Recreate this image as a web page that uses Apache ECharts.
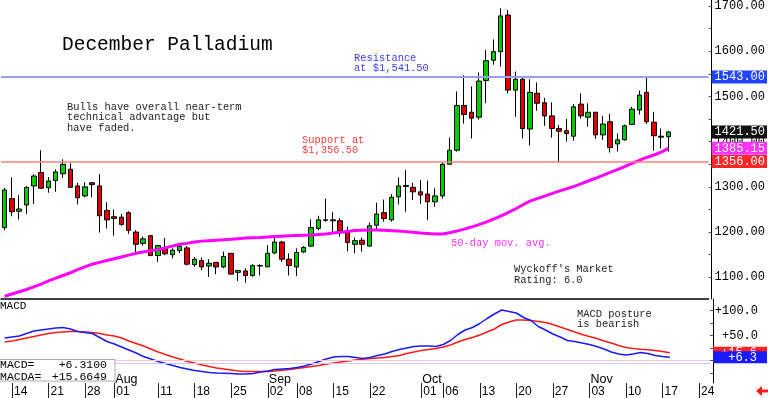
<!DOCTYPE html>
<html>
<head>
<meta charset="utf-8">
<script src="https://cdn.jsdelivr.net/npm/echarts@6/dist/echarts.min.js"></script>
<style>
  html, body { margin: 0; padding: 0; background: #fff; }
  #main { width: 768px; height: 398px; }
</style>
</head>
<body>
<div id="main"></div>
<script>
// trading days, Jul 11 .. Nov 18 plus a few empty days to the right
var dates = ['07-11','07-14','07-15','07-16','07-17','07-18','07-21','07-22','07-23','07-24','07-25',
  '07-28','07-29','07-30','07-31','08-01','08-04','08-05','08-06','08-07','08-08','08-11','08-12','08-13',
  '08-14','08-15','08-18','08-19','08-20','08-21','08-22','08-25','08-26','08-27','08-28','08-29','09-02',
  '09-03','09-04','09-05','09-08','09-09','09-10','09-11','09-12','09-15','09-16','09-17','09-18','09-19',
  '09-22','09-23','09-24','09-25','09-26','09-29','09-30','10-01','10-02','10-03','10-06','10-07','10-08',
  '10-09','10-10','10-13','10-14','10-15','10-16','10-17','10-20','10-21','10-22','10-23','10-24','10-27',
  '10-28','10-29','10-30','10-31','11-03','11-04','11-05','11-06','11-07','11-10','11-11','11-12','11-13',
  '11-14','11-17','11-18','11-19','11-20','11-21','11-24','11-25'];

var dayTicks = ['07-14','07-21','07-28','08-01','08-11','08-18','08-25','09-02','09-08','09-15','09-22',
  '10-01','10-06','10-13','10-20','10-27','11-03','11-10','11-17','11-24'];
var monthStarts = ['08-01','09-02','10-01','11-03'];
var monthNames = ['Aug','Sep','Oct','Nov'];

var opens = [1210,1274,1246,1260,1302,1332,1298,1314,1329,1339,
  1302,1280,1309,1302,1248,1234,1233,1243,1200,1175,
  1192,1148,1166,1150,1159,1165,1128,1137,1125,1133,
  1123,1153,1111,1114,1104,1125,1123,1154,1178,1140,
  1123,1156,1169,1208,1227,1227,1225,1203,1173,1182,
  1169,1215,1243,1227,1278,1303,1299,1289,1284,1267,
  1280,1350,1381,1480,1465,1454,1535,1580,1599,1680,
  1514,1538,1428,1507,1486,1457,1429,1424,1412,1483,
  1454,1465,1415,1444,1395,1404,1438,1470,1509,1443,
  1412,1411];
var closes = [1293,1245,1251,1299,1324,1297,1313,1333,1350,1299,
  1276,1300,1305,1236,1227,1230,1217,1204,1173,1185,
  1148,1170,1152,1160,1169,1129,1140,1123,1131,1123,
  1146,1107,1115,1104,1126,1126,1153,1178,1140,1126,
  1155,1166,1210,1227,1226,1225,1203,1177,1181,1173,
  1214,1240,1230,1277,1302,1301,1289,1282,1267,1280,
  1350,1381,1480,1460,1452,1534,1579,1599,1678,1514,
  1538,1429,1509,1485,1457,1429,1423,1418,1477,1457,
  1465,1415,1439,1387,1404,1435,1472,1503,1444,1413,
  1410,1421.5];
var lows = [1204,1235,1228,1240,1262,1296,1287,1289,1320,1298,
  1261,1277,1277,1199,1208,1192,1214,1196,1156,1170,
  1148,1134,1149,1142,1153,1126,1123,1116,1101,1107,
  1120,1107,1092,1088,1101,1104,1123,1151,1134,1104,
  1103,1153,1167,1204,1223,1198,1190,1157,1153,1157,
  1168,1206,1223,1223,1261,1245,1271,1262,1227,1256,
  1274,1350,1378,1440,1407,1449,1485,1570,1566,1507,
  1455,1407,1391,1468,1435,1409,1354,1400,1402,1451,
  1433,1406,1404,1376,1378,1402,1437,1460,1439,1380,
  1385,1378];
var highs = [1298,1321,1282,1302,1328,1381,1322,1339,1361,1352,
  1309,1310,1311,1328,1266,1250,1240,1246,1204,1190,
  1193,1172,1187,1164,1174,1169,1145,1144,1140,1134,
  1157,1153,1115,1120,1129,1129,1171,1193,1180,1153,
  1164,1169,1228,1236,1274,1244,1231,1212,1188,1188,
  1221,1265,1272,1284,1321,1337,1309,1315,1314,1297,
  1354,1409,1511,1547,1522,1553,1603,1626,1695,1691,
  1555,1544,1538,1531,1497,1487,1437,1450,1483,1507,
  1485,1465,1457,1461,1418,1438,1477,1513,1541,1466,
  1429,1423];

// 50-day moving average
var ma50 = [1058,1063,1068,1073,1079,1085,1092,1098,1104,1110,
  1117,1123,1129,1133,1137,1141,1145,1149,1153,1156,
  1159,1161,1165,1169,1173,1175,1178,1180,1181,1182,
  1183,1184,1185.5,1186.7,1187.5,1188.2,1189,1190,1191,1192,
  1192.5,1193,1193.4,1194.5,1196,1197.8,1199.5,1201.5,1203.3,1204,
  1204.4,1204.4,1203.8,1203,1202.2,1201,1199.5,1197.8,1197,1196,
  1195.6,1198.5,1202.2,1206.5,1211.1,1216.5,1222,1228.5,1235.4,1243,
  1251,1260,1268.6,1274,1279.6,1285,1290.7,1295.7,1300.7,1306.7,
  1313,1319,1325.5,1332,1338,1345,1352,1358.5,1365,1370.5,
  1377,1385.15];

var macd = [45,47,49,54,59,61,63,65,66,63,
  58,56,54,46,38,33,27,21,15,8,
  3,-2,-6,-10,-14,-17,-20,-22,-24,-25,
  -25.5,-26,-27,-27,-26,-23,-21,-18,-17,-16,
  -14,-11,-7,-2,3,7,8,8,6,4,
  6,10,13,18,22,25,28,29,29,28,
  32,40,52,61,66,74,84,93,101,98,
  95,86,80,68,61,53,47,40,38,35,
  32,28,23,17,13,11,13,16,14,10,
  8,6.31];
var macdAvg = [37,39,42,45,48,51,54,56,57,58,
  58,57,56,54,51,49,45,39,34,29,
  23,17,12,7,3,-2,-5,-9,-12,-15,
  -17,-19,-21,-22,-22,-22,-22,-21,-19.5,-18,
  -16,-14,-12,-10,-7,-5,-3,-1,1,2.5,
  4,5,6,8,10,14,17,20,22,24,
  27,31,37,42,46,51,57,63,72,77,
  81,81,80,78,76,72,67,62,57,52,
  48,44,39,35,30,26,24,22.5,21.5,20,
  18,15.6649];

var resistance = 1543.00;
var support = 1356.00;
var priceTicks = [1100,1200,1300,1400,1500,1600,1700];
var priceMinor = [1100,1150,1200,1250,1300,1350,1400,1450,1500,1550,1600,1650,1700];
var macdTicks = [50,100];
var macdMinor = [-25,0,25,50,75,100];

var candles = opens.map(function (o, i) {
    return [o, closes[i], lows[i], highs[i]];
});
var last = closes.length - 1;

var MONO = '"Liberation Mono", "DejaVu Sans Mono", monospace';
var SANS = '"Liberation Sans", Arial, sans-serif';
var NOLINE = { color: 'rgba(0,0,0,0)', width: 0 };

function tag(bg) {
    return {
        show: true,
        position: 'end',
        distance: 3,
        formatter: function (p) { return p.value.toFixed(2); },
        color: '#fff',
        backgroundColor: bg,
        fontFamily: MONO,
        fontSize: 12,
        lineHeight: 13,
        padding: [0, 2, 0, 3]
    };
}
function macdTag(bg) {
    return {
        show: true,
        position: 'end',
        distance: 3,
        formatter: function (p) {
            return '{a|+' + (Math.floor(p.value * 10) / 10).toFixed(1) + '}';
        },
        rich: { a: { width: 44, align: 'right', color: '#fff', fontFamily: MONO, fontSize: 12, lineHeight: 12 } },
        backgroundColor: bg,
        padding: [0, 10, 0, 0]
    };
}

function txt(x, y, s, color, size, font) {
    return {
        type: 'text', x: x, y: y, z: 100,
        style: { text: s, fill: color, font: size + 'px ' + (font || MONO), verticalAlign: 'middle' }
    };
}

var dayFilter = function (i, v) { return dayTicks.indexOf(v) >= 0; };

var option = {
    animation: false,
    backgroundColor: '#fff',
    grid: [
        { left: 1, top: 0, width: 709, height: 299 },
        { left: 1, top: 299, width: 709, height: 84 }
    ],
    xAxis: [
        { type: 'category', gridIndex: 0, data: dates,
          axisLine: { onZero: false, lineStyle: { color: '#000', width: 1.5 } },
          axisTick: { show: false }, axisLabel: { show: false } },
        { type: 'category', gridIndex: 1, data: dates,
          axisLine: { show: true, onZero: false, lineStyle: NOLINE },
          axisTick: { show: true, alignWithLabel: true, length: 15, interval: dayFilter,
              lineStyle: { color: '#222' } },
          axisLabel: { interval: dayFilter,
              formatter: function (v) { return v.slice(3); },
              align: 'left', margin: 3, padding: [0, 0, 0, 2],
              color: '#000', fontFamily: SANS, fontSize: 12 } },
        { type: 'category', gridIndex: 1, data: dates, position: 'bottom',
          axisLine: { show: true, onZero: false, lineStyle: NOLINE }, axisTick: { show: false },
          axisLabel: { inside: true, margin: -3,
              interval: function (i, v) { return monthStarts.indexOf(v) >= 0; },
              formatter: function (v) { return monthNames[monthStarts.indexOf(v)]; },
              align: 'left', padding: [0, 0, 0, 1],
              color: '#000', fontFamily: SANS, fontSize: 12.5 } }
    ],
    yAxis: [
        { type: 'value', gridIndex: 0, position: 'right', offset: 3,
          min: 1052, max: 1713,
          splitLine: { show: false },
          axisLine: { show: true, lineStyle: { color: '#000' } },
          axisTick: { show: true, inside: true, length: 3, customValues: priceMinor, lineStyle: { color: '#555' } },
          axisLabel: { customValues: priceTicks, margin: 3, color: '#000',
              fontFamily: MONO, fontSize: 12,
              formatter: function (v) { return v.toFixed(2); } } },
        { type: 'value', gridIndex: 1, position: 'right', offset: 3,
          min: -45, max: 123,
          splitLine: { show: false },
          axisLine: { show: true, lineStyle: { color: '#000' } },
          axisTick: { show: true, inside: true, length: 3, customValues: macdMinor, lineStyle: { color: '#555' } },
          axisLabel: { customValues: macdTicks, margin: 45, align: 'right', color: '#000',
              fontFamily: MONO, fontSize: 12,
              formatter: function (v) { return '+' + v.toFixed(1); } } }
    ],
    series: [
        {
            type: 'candlestick', xAxisIndex: 0, yAxisIndex: 0,
            data: candles,
            barWidth: 5,
            itemStyle: { color: '#00cc00', color0: '#e00000', borderColor: '#000', borderColor0: '#000', borderWidth: 1 },
            markLine: {
                silent: true, symbol: 'none', animation: false,
                data: [
                    { yAxis: resistance, lineStyle: { color: '#9c9cf2', width: 2, type: 'solid' }, label: tag('#2244ff') },
                    { yAxis: support, lineStyle: { color: '#ff7f7f', width: 1.5, type: 'solid' }, label: tag('#ff2626') },
                    { yAxis: closes[last], lineStyle: NOLINE, label: tag('#111') }
                ]
            }
        },
        {
            type: 'line', xAxisIndex: 0, yAxisIndex: 0,
            data: ma50, symbol: 'none',
            lineStyle: { color: '#ff00ff', width: 3 },
            markLine: {
                silent: true, symbol: 'none', animation: false,
                data: [
                    { yAxis: ma50[last], lineStyle: NOLINE, label: tag('#ff33ff') }
                ]
            }
        },
        {
            type: 'line', xAxisIndex: 1, yAxisIndex: 1,
            data: macdAvg, symbol: 'none',
            lineStyle: { color: '#ff1a1a', width: 1.5 },
            markLine: {
                silent: true, symbol: 'none', animation: false,
                data: [
                    { yAxis: 0, lineStyle: { color: '#ffc8c8', width: 1, type: 'solid' }, label: { show: false } },
                    { yAxis: macdAvg[last], lineStyle: NOLINE, label: macdTag('#ff2020') }
                ]
            }
        },
        {
            type: 'line', xAxisIndex: 1, yAxisIndex: 1,
            data: macd, symbol: 'none',
            lineStyle: { color: '#1a1aff', width: 1.5 },
            markLine: {
                silent: true, symbol: 'none', animation: false,
                data: [
                    { yAxis: -5, lineStyle: { color: '#c8c8ff', width: 1, type: 'solid' }, label: { show: false } },
                    { yAxis: macd[last], lineStyle: NOLINE, label: macdTag('#1a1aff') }
                ]
            }
        }
    ],
    graphic: [
        txt(62, 45, 'December Palladium', '#000', 19.5),
        txt(67, 107, 'Bulls have overall near-term', '#222', 10.4),
        txt(67, 117.5, 'technical advantage but', '#222', 10.4),
        txt(67, 128, 'have faded.', '#222', 10.4),
        txt(354, 58.5, 'Resistance', '#3c3cff', 10.4),
        txt(354, 68.5, 'at $1,541.50', '#3c3cff', 10.4),
        txt(302, 140, 'Support at', '#ff3c3c', 10.4),
        txt(302, 150, '$1,356.50', '#ff3c3c', 10.4),
        txt(451, 243, '50-day mov. avg.', '#ff33ff', 10.4),
        txt(514, 269.5, "Wyckoff's Market", '#222', 10.4),
        txt(514, 280, 'Rating: 6.0', '#222', 10.4),
        txt(577, 314, 'MACD posture', '#222', 10.4),
        txt(577, 324.5, 'is bearish', '#222', 10.4),
        txt(0, 306, 'MACD', '#000', 11),
        { type: 'rect', z: 99, shape: { x: -1, y: 359.5, width: 116, height: 21.5 },
          style: { fill: '#fff', stroke: '#aaa', lineWidth: 1 } },
        txt(0, 364.5, 'MACD=', '#000', 11.5),
        txt(0, 376.5, 'MACDA=', '#000', 11.5),
        { type: 'text', x: 107, y: 364.5, z: 100,
          style: { text: '+' + macd[last].toFixed(4), fill: '#000', font: '11.5px ' + MONO, align: 'right', verticalAlign: 'middle' } },
        { type: 'text', x: 107, y: 376.5, z: 100,
          style: { text: '+' + macdAvg[last].toFixed(4), fill: '#000', font: '11.5px ' + MONO, align: 'right', verticalAlign: 'middle' } },
        { type: 'polygon', z: 100,
          shape: { points: [[756, 391], [762, 386], [762, 389.5], [768, 389.5], [768, 392.5], [762, 392.5], [762, 396]] },
          style: { fill: '#ff1a1a' } }
    ]
};

var myChart = echarts.init(document.getElementById('main'));
myChart.setOption(option);
</script>
</body>
</html>
